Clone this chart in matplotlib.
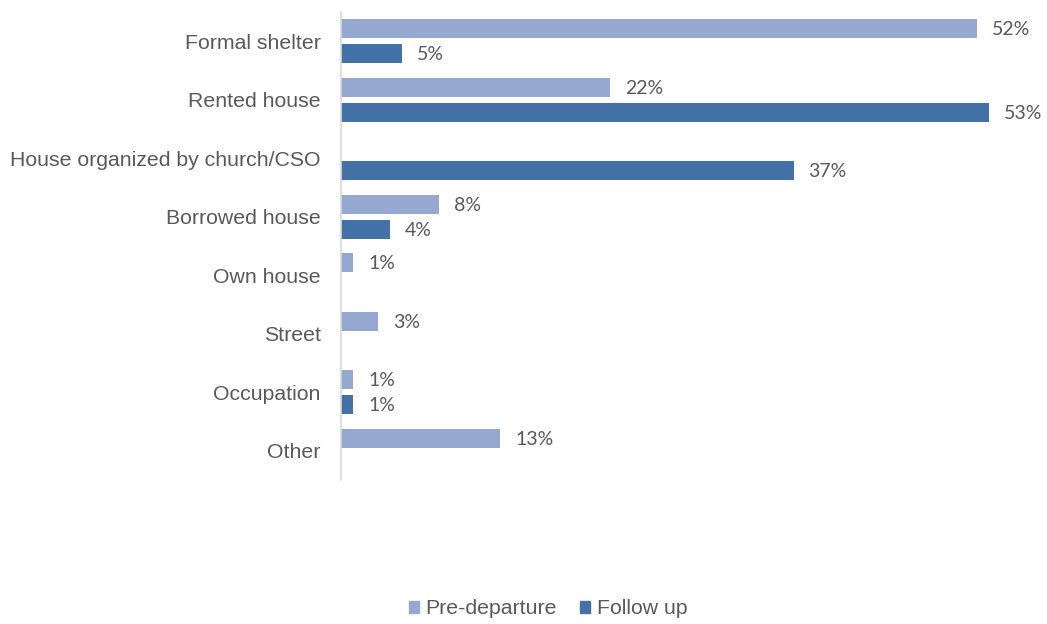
import matplotlib.pyplot as plt
import numpy as np

categories = ["Formal shelter", "Rented house", "House organized by church/CSO",
              "Borrowed house", "Own house", "Street", "Occupation", "Other"]
pre_departure = [52, 22, None, 8, 1, 3, 1, 13]
follow_up = [5, 53, 37, 4, None, None, 1, None]
series_names = ["Pre-departure", "Follow up"]

light = "#95A9D0"
dark = "#4472A6"
text_col = "#595959"

fig = plt.figure(figsize=(10.47, 6.24), dpi=100)
px_l, px_r, px_t, px_b = 341, 1000, 12, 480
W, H = 1047, 624
ax = fig.add_axes([px_l / W, 1 - px_b / H, (px_r - px_l) / W, (px_b - px_t) / H])

scale = 12.23  # pixels per percent
ax.set_xlim(0, (px_r - px_l) / scale)
ax.set_ylim(len(categories) - 0.5, -0.5)

y = np.arange(len(categories))
bh = 0.33
off = 0.215
lab_font = dict(family="Lato", size=14, color=text_col)

for vals, sign, col in [(pre_departure, -1, light), (follow_up, 1, dark)]:
    for yi, v in zip(y, vals):
        if v is None:
            continue
        ax.barh(yi + sign * off, v, height=bh, color=col)
        ax.text(v + 15 / scale, yi + sign * off + 0.02, f"{v}%", va="center", ha="left", **lab_font)

ax.set_yticks(y)
ax.set_yticklabels(categories, family="Liberation Sans", fontsize=15.3, color=text_col)
ax.tick_params(axis="y", length=0, pad=14.5)
for lbl in ax.get_yticklabels():
    lbl.set_y(lbl.get_position()[1])
ax.set_xticks([])
for s in ["top", "right", "bottom"]:
    ax.spines[s].set_visible(False)
ax.spines["left"].set_color("#D9D9D9")
ax.spines["left"].set_linewidth(1.2)

handles = [plt.Rectangle((0, 0), 1, 1, color=light), plt.Rectangle((0, 0), 1, 1, color=dark)]
fig.legend(handles, series_names, loc="center", bbox_to_anchor=(548 / W, 1 - 609 / H), ncol=2,
           frameon=False, handlelength=0.48, handleheight=0.48, handletextpad=0.3, columnspacing=1.1,
           prop=dict(family="Liberation Sans", size=15.3))
for t in fig.legends[0].get_texts():
    t.set_color(text_col)

fig.savefig("out.png", dpi=100)
